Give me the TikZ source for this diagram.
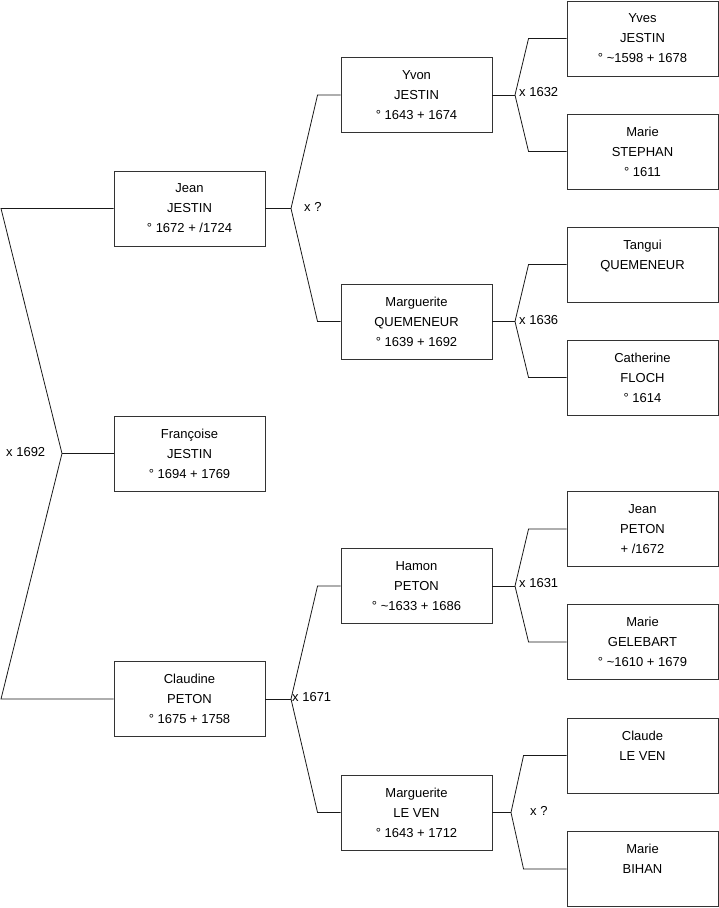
\documentclass[tikz,border=0pt]{standalone}
\usepackage{fontspec}
\setmainfont{Liberation Sans}
\usetikzlibrary{positioning}

\begin{document}
\begin{tikzpicture}[
    x=1pt, y=-1pt,
    person/.style={rectangle, draw=black!80, line width=0.9pt, minimum width=151pt, minimum height=75pt, inner sep=0pt, align=center, font=\fontsize{13}{20}\selectfont},
    link/.style={draw=black!90, line width=0.8pt},
    union/.style={anchor=west, inner sep=0pt, font=\fontsize{13}{15}\selectfont}
]
    \useasboundingbox (0,0) rectangle (719,908);

    % generation 1
    \node (jean) [person] at (189.5,208.5) {Jean\\JESTIN\\° 1672 + /1724};
    \node (francoise) [person] at (189.5,453.5) {Françoise\\JESTIN\\° 1694 + 1769};
    \node (claudine) [person] at (189.5,699) {Claudine\\PETON\\° 1675 + 1758};

    % generation 2
    \node (yvon) [person] at (416.5,95) {Yvon\\JESTIN\\° 1643 + 1674};
    \node (margq) [person] at (416.5,321.5) {Marguerite\\QUEMENEUR\\° 1639 + 1692};
    \node (hamon) [person] at (416.5,586) {Hamon\\PETON\\° \textasciitilde1633 + 1686};
    \node (marglv) [person] at (416.5,812.5) {Marguerite\\LE VEN\\° 1643 + 1712};

    % generation 3
    \node (yves) [person] at (642.5,38.5) {Yves\\JESTIN\\° \textasciitilde1598 + 1678};
    \node (maries) [person] at (642.5,151.5) {Marie\\STEPHAN\\° 1611};
    \node (tangui) [person] at (642.5,264.5) {Tangui\\QUEMENEUR\\~};
    \node (catherine) [person] at (642.5,377.5) {Catherine\\FLOCH\\° 1614};
    \node (jeanp) [person] at (642.5,529) {Jean\\PETON\\+ /1672};
    \node (marieg) [person] at (642.5,642) {Marie\\GELEBART\\° \textasciitilde1610 + 1679};
    \node (claude) [person] at (642.5,755.5) {Claude\\LE VEN\\~};
    \node (marieb) [person] at (642.5,869) {Marie\\BIHAN\\~};

    % fork points
    \coordinate (top) at (1,208.5);
    \coordinate (bottom) at (1,699);
    \coordinate (x1692) at (62,453.5);
    \coordinate (xjean) at (291,208.5);
    \coordinate (xclaudine) at (291,699);
    \coordinate (xyvon) at (515,95);
    \coordinate (xmargq) at (515,321.5);
    \coordinate (xhamon) at (515,586);
    \coordinate (xmarglv) at (511,812.5);

    % connectors
    \draw [link] (jean.west) -- (top) -- (x1692) -- (bottom) -- (claudine.west);
    \draw [link] (x1692) -- (francoise.west);

    \draw [link] (jean.east) -- (xjean);
    \draw [link] (xjean) -- ([xshift=-23pt]yvon.west) -- (yvon.west);
    \draw [link] (xjean) -- ([xshift=-23pt]margq.west) -- (margq.west);
    \draw [link] (claudine.east) -- (xclaudine);
    \draw [link] (xclaudine) -- ([xshift=-23pt]hamon.west) -- (hamon.west);
    \draw [link] (xclaudine) -- ([xshift=-23pt]marglv.west) -- (marglv.west);

    \draw [link] (yvon.east) -- (xyvon);
    \draw [link] (xyvon) -- ([xshift=-38pt]yves.west) -- (yves.west);
    \draw [link] (xyvon) -- ([xshift=-38pt]maries.west) -- (maries.west);
    \draw [link] (margq.east) -- (xmargq);
    \draw [link] (xmargq) -- ([xshift=-38pt]tangui.west) -- (tangui.west);
    \draw [link] (xmargq) -- ([xshift=-38pt]catherine.west) -- (catherine.west);
    \draw [link] (hamon.east) -- (xhamon);
    \draw [link] (xhamon) -- ([xshift=-38pt]jeanp.west) -- (jeanp.west);
    \draw [link] (xhamon) -- ([xshift=-38pt]marieg.west) -- (marieg.west);
    \draw [link] (marglv.east) -- (xmarglv);
    \draw [link] (xmarglv) -- ([xshift=-43pt]claude.west) -- (claude.west);
    \draw [link] (xmarglv) -- ([xshift=-43pt]marieb.west) -- (marieb.west);

    % marriages
    \node (m1692) [union] at (6,452) {x 1692};
    \node (mjean) [union] at (304,207) {x ?};
    \node (mclaudine) [union] at (292,697) {x 1671};
    \node (myvon) [union] at (519,92) {x 1632};
    \node (mmargq) [union] at (519,320) {x 1636};
    \node (mhamon) [union] at (519,583) {x 1631};
    \node (mmarglv) [union] at (530,811) {x ?};
\end{tikzpicture}
\end{document}
